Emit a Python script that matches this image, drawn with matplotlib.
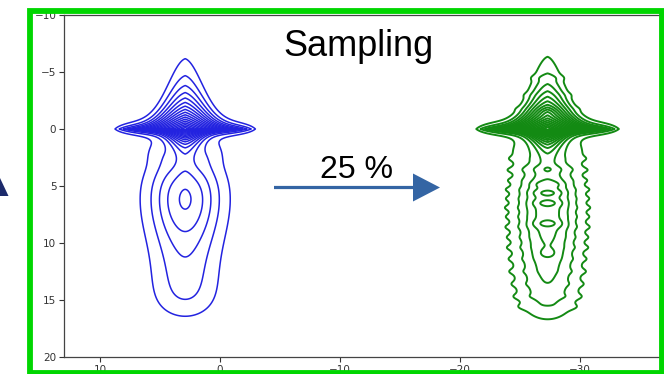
import numpy as np
import matplotlib
matplotlib.use("Agg")
import matplotlib.pyplot as plt
from matplotlib.patches import Rectangle, Polygon, FancyArrow

# ---- data: two density maps (original and 25 % sampled) ----
names = ["original", "sampled"]
line_colors = ["#2323e0", "#138a13"]
centers_x = [2.9, -27.3]
# central star-shaped peak
star_amp = [17.6, 17.6]
star_half_width = [6.2, 6.3]
star_up_floor = [0.35, 0.35]
star_up_peak = [1.8, 1.85]
star_up_sigma = [1.5, 1.4]
star_down_floor = [0.3, 0.3]
star_down_peak = [0.75, 0.75]
star_down_sigma = [1.0, 1.0]
# shoulders of the neck below the star
neck_amp = [0.75, 0.75]
neck_y = [1.9, 1.9]
neck_dx = [2.1, 2.2]
# main body blob
body_amp = [2.7, 2.0]
body_y = [5.8, 6.5]
body_sigma_x = [2.15, 1.8]
body_sigma_y = [2.8, 4.0]
# long tail
tail_amp = [2.6, 2.7]
tail_top = [3.5, 3.5]
tail_bottom = [16.0, 16.1]
tail_sigma_x = [2.0, 1.8]
# local bumps in the sampled map
bumps_y = [-1.5, 3.5, 4.85, 5.6, 6.5, 8.3, 10.9]
bumps_amp = [0.8, 0.6, 0.8, 0.9, 0.8, 0.9, 0.6]
bumps_sx = [0.6, 1.6, 0.9, 1.0, 1.0, 1.0, 0.6]
bumps_sy = [0.3, 0.25, 0.2, 0.22, 0.22, 0.25, 0.3]
# lateral ripples on the edges of the sampled map
ripple_y = [-4.5, -3.0, -1.8, 2.6, 3.6, 4.5, 5.3, 6.1, 6.9, 7.7, 8.6, 9.5, 10.4, 11.4, 12.5, 13.6, 14.7, 15.6]
ripple_amp = [0.3, 0.3, 0.3, 0.3, 0.35, 0.3, 0.35, 0.3, 0.35, 0.3, 0.35, 0.3, 0.35, 0.3, 0.35, 0.3, 0.35, 0.3]
ripple_dx = [1.1, 2.4, 3.2, 3.3, 3.3, 3.3, 3.4, 3.4, 3.4, 3.3, 3.3, 3.2, 3.1, 3.0, 2.8, 2.6, 2.3, 1.9]
levels = np.arange(1, 18)

x_ticks = [10, 0, -10, -20, -30]
y_ticks = [-10, -5, 0, 5, 10, 15, 20]
title_text = "Sampling"
arrow_text = "25 %"


def sig(z):
    return 1.0 / (1.0 + np.exp(-z))


def density(X, Y, i, sampled=False):
    xp = X - centers_x[i]
    h_up = star_up_floor[i] + star_up_peak[i] * np.exp(-xp ** 2 / (2 * star_up_sigma[i] ** 2))
    h_dn = star_down_floor[i] + star_down_peak[i] * np.exp(-xp ** 2 / (2 * star_down_sigma[i] ** 2))
    h = np.where(Y < 0, h_up, h_dn)
    f = star_amp[i] * np.clip(1 - np.abs(xp) / star_half_width[i], 0, None) * np.exp(-np.abs(Y) / h)
    for sgn in (-1, 1):
        f += neck_amp[i] * np.exp(-(xp - sgn * neck_dx[i]) ** 2 / (2 * 0.9 ** 2) - (Y - neck_y[i]) ** 2 / (2 * 0.9 ** 2))
    f += body_amp[i] * np.exp(-xp ** 2 / (2 * body_sigma_x[i] ** 2) - (Y - body_y[i]) ** 2 / (2 * body_sigma_y[i] ** 2))
    f += tail_amp[i] * sig((Y - tail_top[i]) / 1.0) * sig((tail_bottom[i] - Y) / 0.9) \
        * np.exp(-xp ** 2 / (2 * tail_sigma_x[i] ** 2))
    if sampled:
        for by, a, sx, sy in zip(bumps_y, bumps_amp, bumps_sx, bumps_sy):
            f += a * np.exp(-xp ** 2 / (2 * sx ** 2) - (Y - by) ** 2 / (2 * sy ** 2))
        for by, a, dx in zip(ripple_y, ripple_amp, ripple_dx):
            for sgn in (-1, 1):
                f += a * np.exp(-(xp - sgn * dx) ** 2 / (2 * 0.9 ** 2) - (Y - by) ** 2 / (2 * 0.2 ** 2))
    return f


W, H = 664, 374
fig = plt.figure(figsize=(W / 100, H / 100), dpi=100)
ax = fig.add_axes([64 / W, (H - 357) / H, 596 / W, 342 / H])

xs = np.arange(-37.0, 13.5, 0.03)
ys = np.arange(-10.0, 20.0, 0.02)
X, Y = np.meshgrid(xs, ys)
F0 = density(X, Y, 0)
F1 = density(X, Y, 1, sampled=True)
ax.contour(X, Y, F0, levels=levels, colors=line_colors[0], linewidths=1.1)
ax.contour(X, Y, F1, levels=levels, colors=line_colors[1], linewidths=1.4)

ax.set_xlim(13.0, -36.67)
ax.set_ylim(20, -10)
ax.set_xticks(x_ticks)
ax.set_yticks(y_ticks)
ax.tick_params(labelsize=7.5, colors="#333333", length=3.5, width=0.8, pad=2)
for s in ax.spines.values():
    s.set_color("#444444")
    s.set_linewidth(0.9)

# overlay in pixel coordinates
ov = fig.add_axes([0, 0, 1, 1])
ov.set_xlim(0, W)
ov.set_ylim(H, 0)
ov.axis("off")
ov.patch.set_alpha(0)
ov.add_patch(Rectangle((30, 10.5), 631.5, 362, fill=False, ec="#00d600", lw=4.2))
ov.add_patch(Polygon([[0, 178], [8.5, 196], [0, 196]], closed=True, fc="#1c2a6b", ec="none"))
ov.add_patch(FancyArrow(274, 187.5, 166, 0, width=3.2, head_width=28, head_length=27,
                        length_includes_head=True, fc="#3465a4", ec="none"))
ov.text(358, 56, title_text, ha="center", va="baseline", fontsize=26,
        family="Liberation Sans", color="black")
ov.text(356, 178, arrow_text, ha="center", va="baseline", fontsize=23,
        family="Liberation Sans", color="black")

fig.savefig("out.png", dpi=100)
